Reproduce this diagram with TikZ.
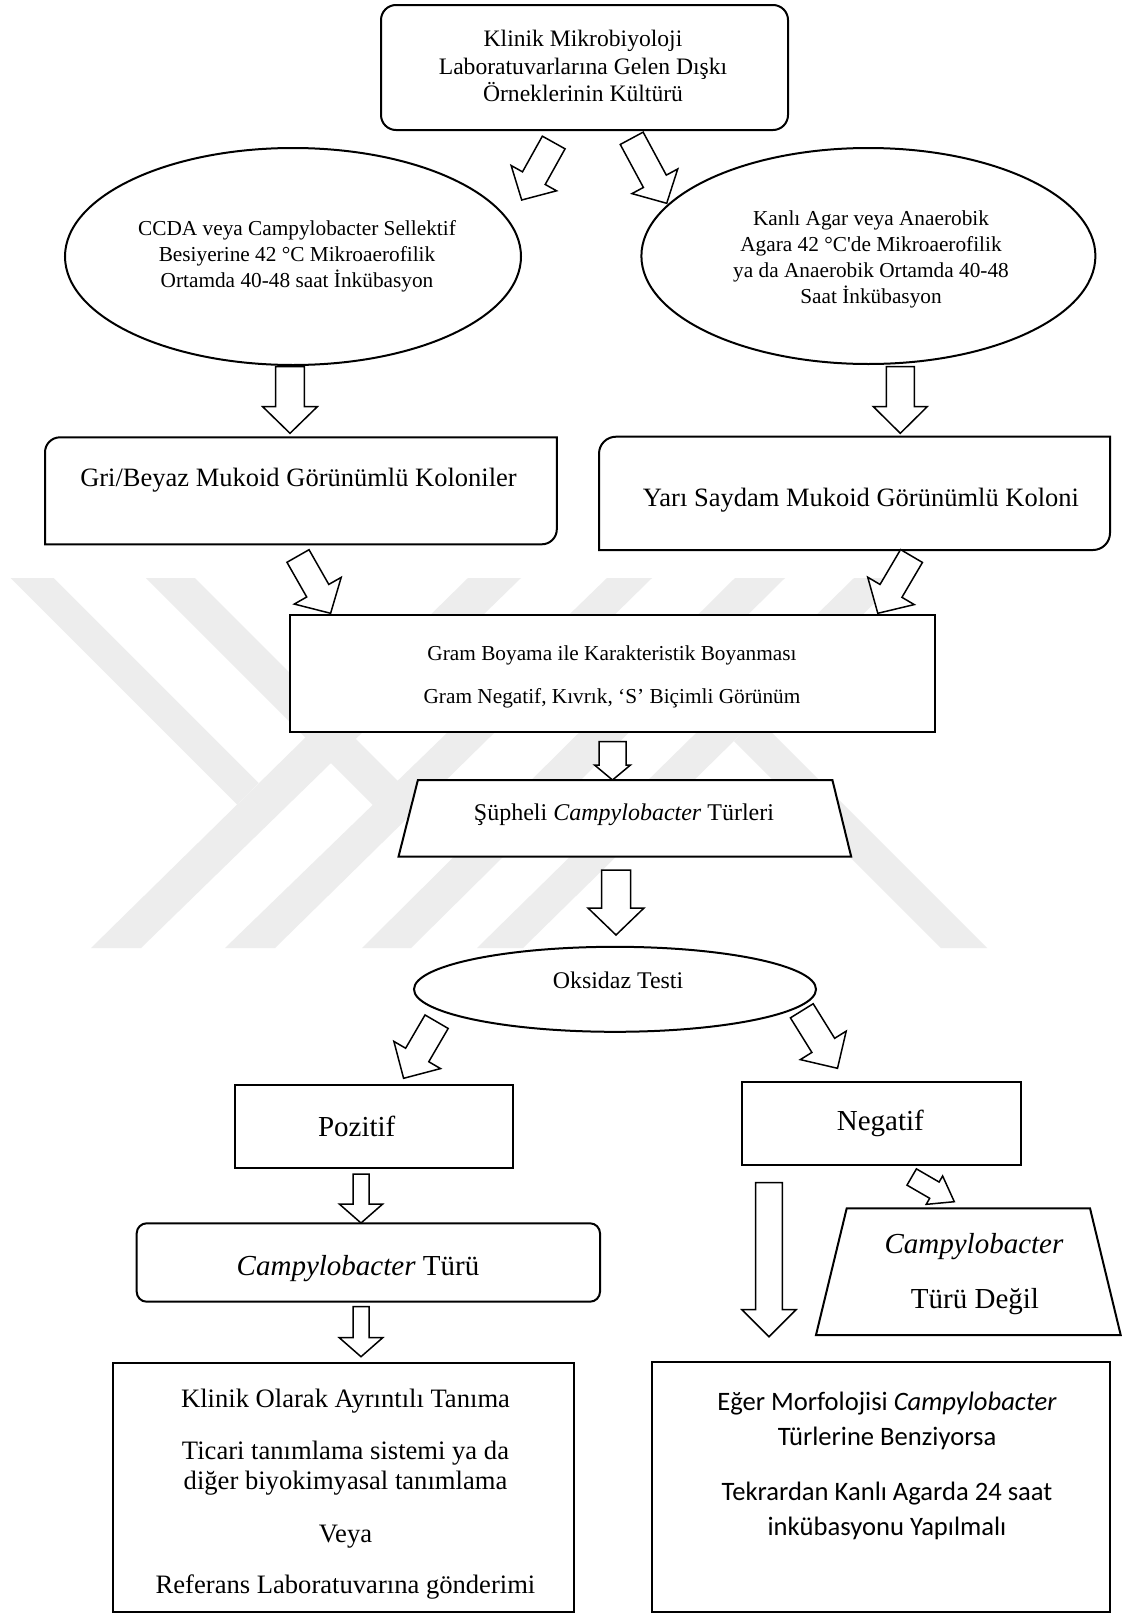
\documentclass[tikz,border=0pt]{standalone}
\usepackage{fontspec}
\setmainfont{Liberation Serif}
\newfontfamily\calib{Carlito}
\usetikzlibrary{calc,shapes.geometric}
\tikzset{
  shp/.style={draw, line width=2pt, fill=white, inner sep=0pt, outer sep=0pt},
  hid/.style={inner sep=0pt, outer sep=0pt},
  shpline/.style={draw, line width=2pt, fill=white},
  barrow/.style={draw, line width=1.5pt, fill=white, line join=miter},
  wm/.style={fill=black!7},
  tx/.style={inner sep=0pt, anchor=base},
}
\newcommand\fsz[1]{\fontsize{#1}{#1}\selectfont}
\newcommand\blockarrow[6]{%
  \coordinate (#1h) at ($#3!#6!#2$);
  \draw[barrow] ($#2!#4!90:#3$) -- ($(#1h)!#4!90:#3$) -- ($(#1h)!#5!90:#3$) -- #3
    -- ($(#1h)!#5!-90:#3$) -- ($(#1h)!#4!-90:#3$) -- ($#2!#4!-90:#3$) -- cycle;}
\begin{document}
\begin{tikzpicture}[x=1pt,y=-1pt]
\fill[white] (0,0) rectangle (1123,1614);
\useasboundingbox (0,0) rectangle (1123,1614);
% watermark
\fill[wm] (10.7,578) -- (53.6,578) -- (258.7,783) -- (237,804.4) -- cycle;
\fill[wm] (468,578) -- (521,578) -- (141,948) -- (91,948) -- cycle;
\fill[wm] (146,578) -- (195,578) -- (398,781) -- (373,805) -- cycle;
\fill[wm] (607,578) -- (652,578) -- (275,948) -- (225,948) -- cycle;
\fill[wm] (735,578) -- (785,578) -- (411,948) -- (362,948) -- cycle;
\fill[wm] (854,578) -- (900,578) -- (523,948) -- (477,948) -- cycle;
\fill[wm] (734,741) -- (757,718) -- (987,948) -- (941,948) -- cycle;

% shapes
\node[shp, rounded corners=15pt, minimum width=407pt, minimum height=125pt] (top) at (584.5,67.5) {};
\node[shp, ellipse, minimum width=456pt, minimum height=217pt] (e1) at (293,256.5) {};
\node[shp, ellipse, minimum width=454pt, minimum height=216pt] (e2) at (868.4,256) {};

\node[hid, minimum width=511.8pt, minimum height=107pt] (gri) at (300.9,490.8) {};
\draw[shpline] (gri.south west) -- ($(gri.north west)+(0,15)$) arc[start angle=180,end angle=90,radius=15pt]
  -- (gri.north east) -- ($(gri.south east)+(0,-15)$) arc[start angle=0,end angle=-90,radius=15pt] -- cycle;
\node[hid, minimum width=511pt, minimum height=113.3pt] (yari) at (854.5,493.35) {};
\draw[shpline] (yari.south west) -- ($(yari.north west)+(0,17)$) arc[start angle=180,end angle=90,radius=17pt]
  -- (yari.north east) -- ($(yari.south east)+(0,-17)$) arc[start angle=0,end angle=-90,radius=17pt] -- cycle;

\node[shp, minimum width=644.8pt, minimum height=116.7pt] (gram) at (612.6,673.35) {};
\node[hid, minimum width=452.7pt, minimum height=76.7pt] (sup) at (624.85,818.35) {};
\draw[shpline] (sup.south west) -- ($(sup.north west)+(19.4,0)$) -- ($(sup.north east)+(-18.8,0)$) -- (sup.south east) -- cycle;
\node[shp, ellipse, minimum width=402pt, minimum height=85pt] (oks) at (615,989.3) {};
\node[shp, minimum width=278.3pt, minimum height=83.3pt] (poz) at (374.15,1126.65) {};
\node[shp, minimum width=278.7pt, minimum height=83.3pt] (neg) at (881.35,1123.35) {};
\node[shp, rounded corners=10pt, minimum width=463.3pt, minimum height=78.4pt] (campy) at (368.35,1262.5) {};
\node[hid, minimum width=304.7pt, minimum height=126.7pt] (degil) at (968.35,1271.65) {};
\draw[shpline] (degil.south west) -- ($(degil.north west)+(30.7,0)$) -- ($(degil.north east)+(-30.7,0)$) -- (degil.south east) -- cycle;
\node[shp, minimum width=460.7pt, minimum height=249.3pt] (klin) at (343.65,1487.35) {};
\node[shp, minimum width=457.7pt, minimum height=250pt] (eger) at (881.15,1487) {};

% texts
\node[tx, font=\fsz{23.6}] (topt1) at (583,46) {Klinik Mikrobiyoloji};
\node[tx, font=\fsz{23.6}] (topt2) at (583,74) {Laboratuvarlarına Gelen Dışkı};
\node[tx, font=\fsz{23.6}] (topt3) at (583,101.7) {Örneklerinin Kültürü};

\node[tx, font=\fsz{21.3}] (e1t1) at (297,235) {CCDA veya Campylobacter Sellektif};
\node[tx, font=\fsz{21.3}] (e1t2) at (297,261) {Besiyerine 42 °C Mikroaerofilik};
\node[tx, font=\fsz{21.3}] (e1t3) at (297,287.3) {Ortamda 40-48 saat İnkübasyon};

\node[tx, font=\fsz{21.3}] (e2t1) at (871,225) {Kanlı Agar veya Anaerobik};
\node[tx, font=\fsz{21.3}] (e2t2) at (871,251.7) {Agara 42 °C\textquotesingle de Mikroaerofilik};
\node[tx, font=\fsz{21.3}] (e2t3) at (871,277.3) {ya da Anaerobik Ortamda 40-48};
\node[tx, font=\fsz{21.3}] (e2t4) at (871,303.3) {Saat İnkübasyon};

\node[tx, font=\fsz{26.5}] (grit) at (298.5,486.7) {Gri/Beyaz Mukoid Görünümlü Koloniler};
\node[tx, font=\fsz{26.5}] (yarit) at (861,506.7) {Yarı Saydam Mukoid Görünümlü Koloni};

\node[tx, font=\fsz{21.3}] (gramt1) at (612,660) {Gram Boyama ile Karakteristik Boyanması};
\node[tx, font=\fsz{21.3}] (gramt2) at (612,703.3) {Gram Negatif, Kıvrık, ‘S’ Biçimli Görünüm};

\node[tx, font=\fsz{24}] (supt) at (624,820) {Şüpheli \textit{Campylobacter} Türleri};
\node[tx, font=\fsz{23.9}] (okst) at (618,988.3) {Oksidaz Testi};
\node[tx, font=\fsz{29}] (pozt) at (356.7,1136.7) {Pozitif};
\node[tx, font=\fsz{29}] (negt) at (880.3,1130) {Negatif};
\node[tx, font=\fsz{29}] (campyt) at (358,1275) {\textit{Campylobacter} Türü};
\node[tx, font=\fsz{29}] (degilt1) at (974,1253.3) {\textit{Campylobacter}};
\node[tx, font=\fsz{29}] (degilt2) at (975,1308.3) {Türü Değil};

\node[tx, font=\fsz{26.6}] (klint1) at (345.5,1407.3) {Klinik Olarak Ayrıntılı Tanıma};
\node[tx, font=\fsz{26.6}] (klint2) at (345.5,1459.3) {Ticari tanımlama sistemi ya da};
\node[tx, font=\fsz{26.6}] (klint3) at (345.5,1489.3) {diğer biyokimyasal tanımlama};
\node[tx, font=\fsz{26.6}] (klint4) at (345.5,1542) {Veya};
\node[tx, font=\fsz{26.6}] (klint5) at (345.5,1593.3) {Referans Laboratuvarına gönderimi};

\node[tx, font=\calib\fsz{26.6}] (egert1) at (887,1410) {Eğer Morfolojisi \textit{Campylobacter}};
\node[tx, font=\calib\fsz{26.6}] (egert2) at (887,1445) {Türlerine Benziyorsa};
\node[tx, font=\calib\fsz{26.6}] (egert3) at (887,1500.7) {Tekrardan Kanlı Agarda 24 saat};
\node[tx, font=\calib\fsz{26.6}] (egert4) at (887,1535) {inkübasyonu Yapılmalı};

% block arrows
\coordinate (a1s) at (553.7,142.5);  \coordinate (a1t) at (521.7,200);
\coordinate (a2s) at (631.7,138.3);  \coordinate (a2t) at (666.7,203.3);
\coordinate (a3s) at (290,366.7);    \coordinate (a3t) at (290,433.3);
\coordinate (a4s) at (900.3,366.7);  \coordinate (a4t) at (900.3,433.3);
\coordinate (a5s) at (298,556);      \coordinate (a5t) at (330.6,613.3);
\coordinate (a6s) at (911.5,556);    \coordinate (a6t) at (877.8,613.3);
\coordinate (a7s) at (612.5,741.7);  \coordinate (a7t) at (612.5,780);
\coordinate (a8s) at (616,870);      \coordinate (a8t) at (616,935);
\coordinate (a9s) at (436.6,1021.7); \coordinate (a9t) at (403.6,1078.3);
\coordinate (a10s) at (801.8,1010.8); \coordinate (a10t) at (837.5,1068.3);
\coordinate (a11s) at (361,1174);    \coordinate (a11t) at (361,1223);
\coordinate (a12s) at (361,1306.7);  \coordinate (a12t) at (361,1356.7);
\coordinate (a13s) at (769,1182.7);  \coordinate (a13t) at (769,1336.7);
\coordinate (a14s) at (911.7,1177);  \coordinate (a14t) at (954.3,1201.7);

\blockarrow{a1}{(a1s)}{(a1t)}{13pt}{26pt}{25pt}
\blockarrow{a2}{(a2s)}{(a2t)}{13pt}{26pt}{25pt}
\blockarrow{a3}{(a3s)}{(a3t)}{14.4pt}{27.4pt}{26.7pt}
\blockarrow{a4}{(a4s)}{(a4t)}{14pt}{27pt}{26.7pt}
\blockarrow{a5}{(a5s)}{(a5t)}{12.7pt}{27pt}{26pt}
\blockarrow{a6}{(a6s)}{(a6t)}{12.7pt}{27pt}{26pt}
\blockarrow{a7}{(a7s)}{(a7t)}{13.5pt}{18pt}{15pt}
\blockarrow{a8}{(a8s)}{(a8t)}{14.5pt}{28pt}{27pt}
\blockarrow{a9}{(a9s)}{(a9t)}{13.4pt}{27pt}{27pt}
\blockarrow{a10}{(a10s)}{(a10t)}{13.4pt}{27pt}{27pt}
\blockarrow{a11}{(a11s)}{(a11t)}{8pt}{21.7pt}{19pt}
\blockarrow{a12}{(a12s)}{(a12t)}{8pt}{21.7pt}{19pt}
\blockarrow{a13}{(a13s)}{(a13t)}{13.3pt}{27pt}{27pt}
\blockarrow{a14}{(a14s)}{(a14t)}{9.4pt}{16.4pt}{23pt}
\end{tikzpicture}
\end{document}
